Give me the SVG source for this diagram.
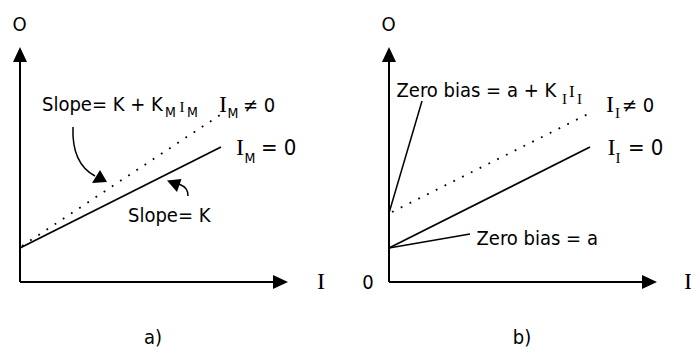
<svg xmlns="http://www.w3.org/2000/svg" width="691" height="349" viewBox="0 0 691 349">
<style>
.t{font-family:"DejaVu Sans Condensed","DejaVu Sans",sans-serif;font-stretch:condensed;font-size:20px;fill:#000}
.s{font-family:"DejaVu Sans Condensed","DejaVu Sans",sans-serif;font-stretch:condensed;font-size:14px;fill:#000}
.r{font-family:"Liberation Serif",serif;font-size:24px;fill:#000}
.rs{font-family:"Liberation Serif",serif;font-size:15px;fill:#000}
.ax{stroke:#000;stroke-width:2;fill:none}
.ln{stroke:#000;stroke-width:1.8;fill:none}
.ld{stroke:#000;stroke-width:1.5;fill:none}
.dt{stroke:#000;stroke-width:1.8;fill:none;stroke-dasharray:1.8 8}
.hd{fill:#000;stroke:none}
</style>
<rect width="691" height="349" fill="#fff"/>
<g id="connectors">
  <!-- panel a axes -->
  <line class="ax" x1="20" y1="282" x2="20" y2="60"/>
  <polygon class="hd" points="20,47 13,62 27,62"/>
  <line class="ax" x1="20" y1="282" x2="275" y2="282"/>
  <polygon class="hd" points="288,282 273,275 273,289"/>
  <!-- panel a lines -->
  <line class="ln" x1="20" y1="248" x2="221" y2="147"/>
  <line class="dt" x1="22" y1="246" x2="220" y2="115"/>
  <path class="ld" d="M73,127 C72,152 80,168 95,176"/>
  <polygon class="hd" points="107,182 92,183 100,170"/>
  <path class="ld" d="M188,196 C188,190 186,187 179,184"/>
  <polygon class="hd" points="167,180.5 181.5,179 177,192"/>
  <!-- panel b axes -->
  <line class="ax" x1="389" y1="282" x2="389" y2="60"/>
  <polygon class="hd" points="389,47 382,62 396,62"/>
  <line class="ax" x1="389" y1="282" x2="644" y2="282"/>
  <polygon class="hd" points="657,282 642,275 642,289"/>
  <!-- panel b lines -->
  <line class="ln" x1="389" y1="248" x2="590" y2="147"/>
  <line class="dt" x1="392" y1="212" x2="590" y2="113"/>
  <line class="ld" x1="389" y1="213" x2="422" y2="101"/>
  <line class="ld" x1="389" y1="248" x2="470" y2="234"/>
</g>
<g id="panel-a-labels">
  <text class="t" x="19.5" y="31" text-anchor="middle">O</text>
  <text class="t" x="42" y="111">Slope= K + K</text>
  <text class="s" x="165" y="117">M</text>
  <text class="rs" x="179.5" y="111.5">I</text>
  <text class="s" x="187" y="117">M</text>
  <text class="r" x="219" y="112">I</text>
  <text class="s" x="227.5" y="118">M</text>
  <text class="t" x="243" y="112">≠ 0</text>
  <text class="r" x="236" y="155">I</text>
  <text class="s" x="244.5" y="163">M</text>
  <text class="t" x="261" y="155" style="font-size:22px">= 0</text>
  <text class="t" x="128" y="221.5">Slope= K</text>
  <text class="r" x="317" y="288.5">I</text>
  <text class="t" x="153" y="344" text-anchor="middle">a)</text>
</g>
<g id="panel-b-labels">
  <text class="t" x="388.5" y="31" text-anchor="middle">O</text>
  <text class="t" x="396.5" y="96.5">Zero bias = a + K</text>
  <text class="rs" x="562" y="103.5">I</text>
  <text class="r" x="569" y="96.5" style="font-size:17px">I</text>
  <text class="rs" x="577" y="103.5">I</text>
  <text class="r" x="606" y="111.5">I</text>
  <text class="rs" x="615" y="118">I</text>
  <text class="t" x="622" y="111.5">≠ 0</text>
  <text class="r" x="607.5" y="155">I</text>
  <text class="rs" x="615.5" y="163">I</text>
  <text class="t" x="628" y="155" style="font-size:22px">= 0</text>
  <text class="t" x="476.5" y="245">Zero bias = a</text>
  <text class="t" x="368" y="288.5" text-anchor="middle">0</text>
  <text class="r" x="684" y="288.5">I</text>
  <text class="t" x="522" y="344" text-anchor="middle">b)</text>
</g>
</svg>
